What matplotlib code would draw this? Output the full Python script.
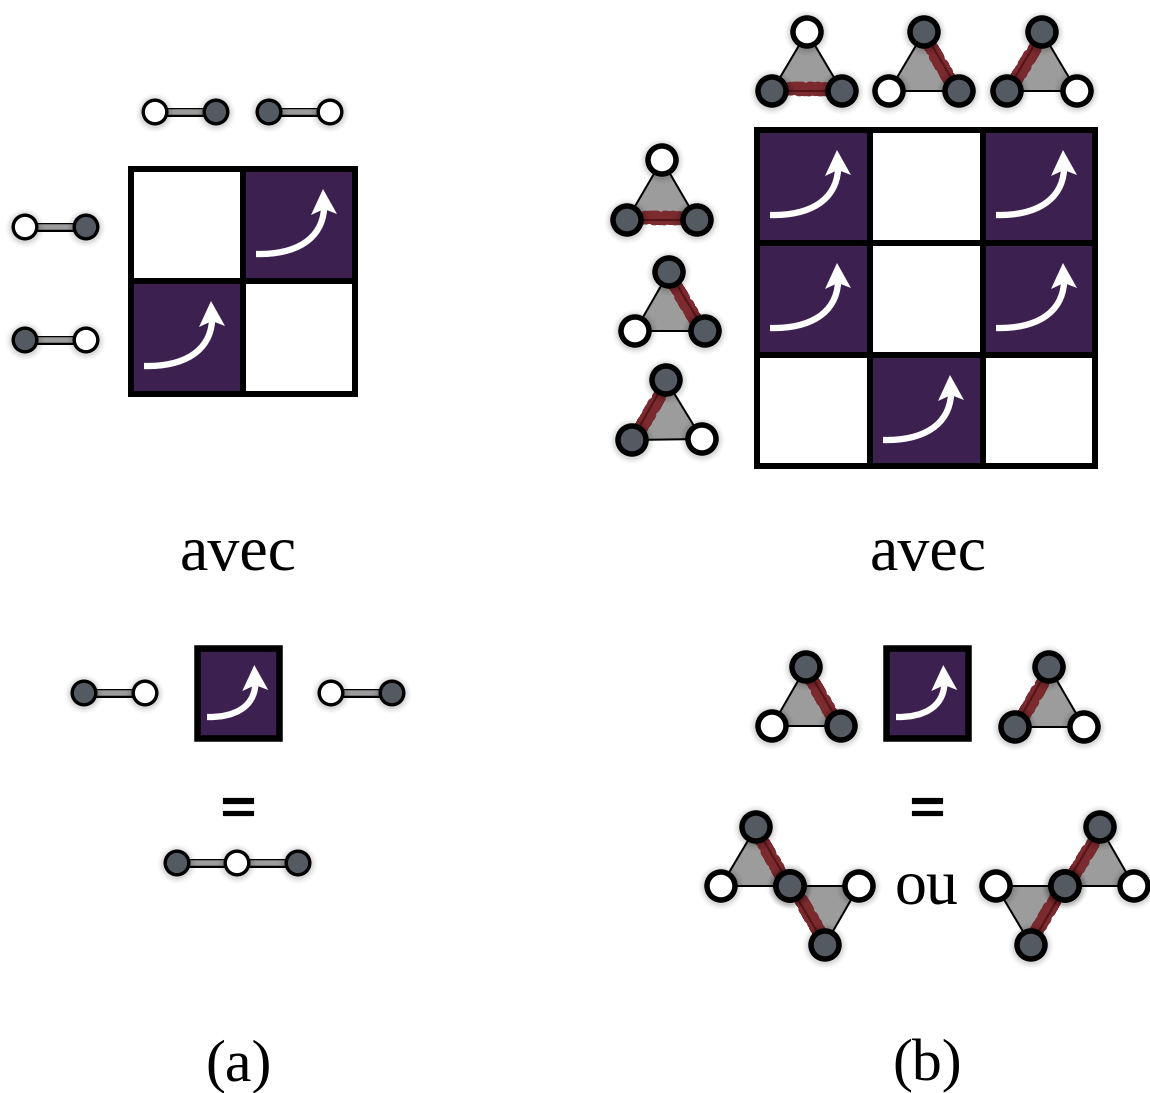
import matplotlib
matplotlib.use("Agg")
import matplotlib.pyplot as plt
import matplotlib.patheffects as pe
from matplotlib.patches import Rectangle, Circle, Polygon, PathPatch
from matplotlib.path import Path

# --- content -------------------------------------------------------------
matrix_a = [[0, 1], [1, 0]]
matrix_b = [[1, 0, 1], [1, 0, 1], [0, 1, 0]]
word_with = "avec"
word_or = "ou"
equals = "="
panel_labels = ["(a)", "(b)"]

PURPLE = "#3c2050"
DARK = "#535a62"
GREY = "#9c9c9c"
RED = "#7b2a2e"
RED_D = "#561418"
FONT = "Liberation Serif"

W, H = 1150, 1093
fig = plt.figure(figsize=(W / 100, H / 100), dpi=100)
ax = fig.add_axes([0, 0, 1, 1])
ax.set_xlim(0, W)
ax.set_ylim(H, 0)
ax.axis("off")


def pt(px):
    return px * 0.72


def node(x, y, kind, r=14, lw=5.5, z=5):
    for extra, a in ((6, .02), (4.5, .03), (3, .04), (1.5, .05)):
        ax.add_patch(Circle((x, y + 1), r + lw / 2 + extra, fc="k", ec="none", alpha=a, zorder=z - 1))
    ax.add_patch(Circle((x, y), r, fc=DARK if kind else "white", ec="k", lw=pt(lw), zorder=z))


def bond(a, b, y):
    ax.plot([a, b], [y, y], color="k", lw=pt(9), solid_capstyle="butt", zorder=3)
    ax.plot([a, b], [y, y], color=GREY, lw=pt(5.5), solid_capstyle="butt", zorder=3.1)


def chain(xs, y, kinds):
    for a, b in zip(xs[:-1], xs[1:]):
        bond(a, b, y)
    for x, k in zip(xs, kinds):
        node(x, y, k, r=11.8, lw=3.4)


def triangle(verts, kinds, red):
    """verts: three (x, y); kinds: 1 dark / 0 white; red: pair of vertex indices."""
    ax.add_patch(Polygon(verts, closed=True, fc=GREY, ec="k", lw=pt(2), zorder=2))
    p, q = verts[red[0]], verts[red[1]]
    other = verts[3 - red[0] - red[1]]
    mx, my = (p[0] + q[0]) / 2, (p[1] + q[1]) / 2
    dx, dy = other[0] - mx, other[1] - my
    n = (dx * dx + dy * dy) ** .5
    ox, oy = 2 * dx / n, 2 * dy / n
    band, = ax.plot([p[0] + ox, q[0] + ox], [p[1] + oy, q[1] + oy], color=RED, lw=pt(12),
                    solid_capstyle="butt", zorder=2.5)
    band.set_sketch_params(scale=1.5, length=5, randomness=10)
    ax.plot([p[0], q[0]], [p[1], q[1]], color=RED_D, lw=pt(2), zorder=2.6)
    for (x, y), k in zip(verts, kinds):
        node(x, y, k)


def arrow(sx, sy, scale=1.0):
    """Curved arrow starting at (sx, sy); the head keeps its size."""
    f = lambda a, b: (sx + a * scale, sy + b * scale)
    ex, ey = f(68, -45)
    path = Path([(sx, sy), f(40, 1), f(66, -15), (ex, ey)],
                [Path.MOVETO, Path.CURVE4, Path.CURVE4, Path.CURVE4])
    ax.add_patch(PathPatch(path, fc="none", ec="white", lw=pt(6.3),
                           capstyle="butt", zorder=3))
    ax.add_patch(Polygon([(ex - 1, ey - 20), (ex + 13, ey + 5), (ex, ey), (ex - 13, ey + 6)],
                         closed=True, fc="white", ec="none", zorder=3.1))


def grid(matrix, xs, ys):
    for i, row in enumerate(matrix):
        for j, v in enumerate(row):
            w = xs[j + 1] - xs[j]
            h = ys[i + 1] - ys[i]
            ax.add_patch(Rectangle((xs[j], ys[i]), w, h, fc=PURPLE if v else "white",
                                   ec="none", zorder=1))
            if v:
                arrow(xs[j] + 13, ys[i] + 85)
    for i, row in enumerate(matrix):
        for j, v in enumerate(row):
            ax.add_patch(Rectangle((xs[j], ys[i]), xs[j + 1] - xs[j], ys[i + 1] - ys[i],
                                   fc="none", ec="k", lw=pt(6), joinstyle="miter", zorder=4))


def label(x, y, s, size=46):
    ax.text(x, y, s, ha="center", va="baseline", fontsize=size, family=FONT, color="k", zorder=6)


def eq(x, y):
    t = ax.text(x, y, equals, ha="center", va="center", fontsize=46, family=FONT,
                weight="bold", color="k", zorder=6)
    t.set_path_effects([pe.withStroke(linewidth=pt(1.2), foreground="k")])


# --- panel (a) -----------------------------------------------------------
grid(matrix_a, [131, 243, 355], [169, 281, 394])
chain([155, 216], 112, (0, 1))
chain([269, 330], 112, (1, 0))
chain([25, 86], 227, (0, 1))
chain([25, 86], 340, (1, 0))
chain([84, 145], 693, (1, 0))
chain([331, 392], 693, (0, 1))
chain([177, 237, 298], 863, (1, 0, 1))
ax.add_patch(Rectangle((197, 648), 82, 90, fc=PURPLE, ec="k", lw=pt(6.5), joinstyle="miter", zorder=1))
arrow(207, 717, 0.71)

# --- panel (b) -----------------------------------------------------------
grid(matrix_b, [757, 870, 983, 1095], [130, 243, 355, 466])
triangle([(807, 32), (772, 91), (842, 91)], (0, 1, 1), (1, 2))
triangle([(924, 32), (889, 91), (959, 91)], (1, 0, 1), (0, 2))
triangle([(1042, 32), (1007, 91), (1077, 91)], (1, 1, 0), (0, 1))
triangle([(662, 160), (627, 220), (697, 220)], (0, 1, 1), (1, 2))
triangle([(669, 272), (635, 331), (705, 331)], (1, 0, 1), (0, 2))
triangle([(666, 380), (632, 440), (702, 439)], (1, 1, 0), (0, 1))
triangle([(806, 667), (772, 726), (841, 726)], (1, 0, 1), (0, 2))
triangle([(1049, 667), (1015, 727), (1084, 727)], (1, 1, 0), (0, 1))
ax.add_patch(Rectangle((886, 648), 82, 90, fc=PURPLE, ec="k", lw=pt(6.5), joinstyle="miter", zorder=1))
arrow(896, 717, 0.71)
triangle([(756, 827), (721, 886), (790, 886)], (1, 0, 1), (0, 2))
triangle([(790, 886), (859, 886), (825, 945)], (1, 0, 1), (0, 2))
triangle([(1100, 827), (1065, 886), (1134, 886)], (1, 1, 0), (0, 1))
triangle([(996, 886), (1065, 886), (1031, 945)], (0, 1, 1), (1, 2))

# --- text ----------------------------------------------------------------
label(238, 570, word_with)
label(928, 570, word_with)
eq(238, 813)
eq(927, 813)
label(927, 903, word_or)
label(239, 1080, panel_labels[0], 43)
label(927, 1080, panel_labels[1], 43)

fig.savefig("out.png", dpi=100, facecolor="white")
